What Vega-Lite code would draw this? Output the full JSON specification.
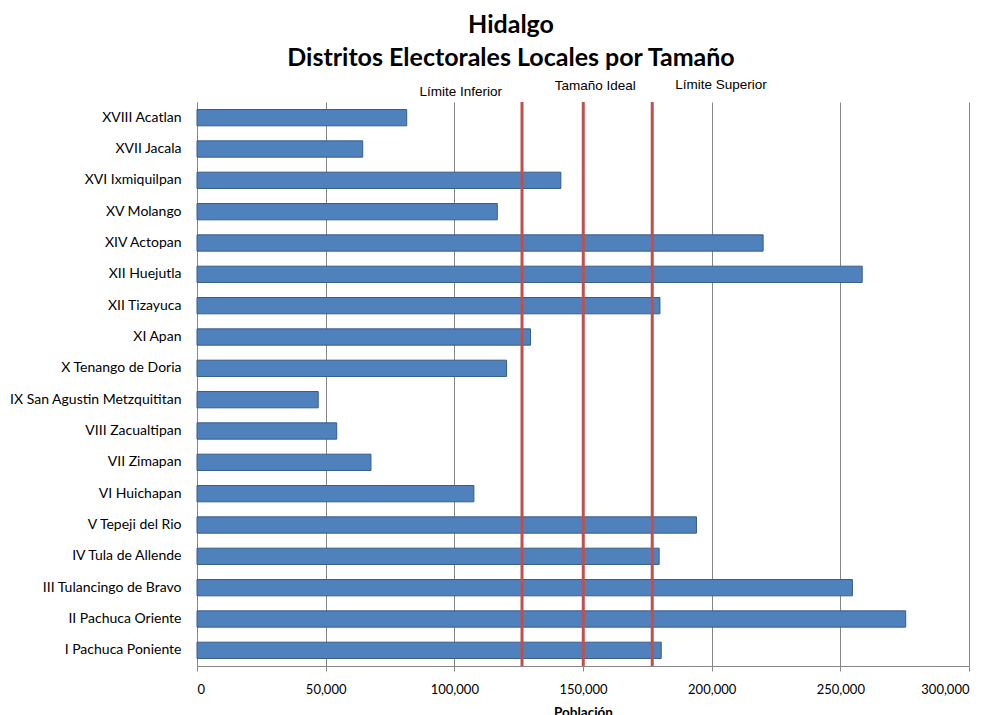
{
  "$schema": "https://vega.github.io/schema/vega-lite/v6.json",
  "autosize": {"type": "none"},
  "padding": {"left": 197, "top": 102, "right": 24, "bottom": 49},
  "width": 772,
  "height": 564,
  "title": {
    "text": ["Hidalgo", "Distritos Electorales Locales por Tamaño"],
    "font": "Lato",
    "fontSize": 25,
    "fontWeight": "bold",
    "color": "#000000",
    "anchor": "middle",
    "dx": -72,
    "lineHeight": 33,
    "offset": 7
  },
  "datasets": {
    "distritos": [
      {"distrito": "XVIII Acatlan", "poblacion": 81500},
      {"distrito": "XVII Jacala", "poblacion": 64400},
      {"distrito": "XVI Ixmiquilpan", "poblacion": 141400},
      {"distrito": "XV Molango", "poblacion": 116700},
      {"distrito": "XIV Actopan", "poblacion": 220000},
      {"distrito": "XII Huejutla", "poblacion": 258500},
      {"distrito": "XII Tizayuca", "poblacion": 179900},
      {"distrito": "XI Apan", "poblacion": 129600},
      {"distrito": "X Tenango de Doria", "poblacion": 120300},
      {"distrito": "IX San Agustin Metzquititan", "poblacion": 47100},
      {"distrito": "VIII Zacualtipan", "poblacion": 54300},
      {"distrito": "VII Zimapan", "poblacion": 67600},
      {"distrito": "VI Huichapan", "poblacion": 107600},
      {"distrito": "V Tepeji del Rio", "poblacion": 194100},
      {"distrito": "IV Tula de Allende", "poblacion": 179600},
      {"distrito": "III Tulancingo de Bravo", "poblacion": 254700},
      {"distrito": "II Pachuca Oriente", "poblacion": 275400},
      {"distrito": "I Pachuca Poniente", "poblacion": 180400}
    ],
    "limites": [
      {"label": "Límite Inferior", "valor": 126300},
      {"label": "Tamaño Ideal", "valor": 150100},
      {"label": "Límite Superior", "valor": 176900}
    ]
  },
  "layer": [
    {
      "data": {"name": "distritos"},
      "mark": {"type": "bar", "color": "#4F81BD", "stroke": "#385D8A", "strokeWidth": 1},
      "encoding": {
        "y": {
          "field": "distrito",
          "type": "nominal",
          "sort": null,
          "scale": {"paddingInner": 0.48, "paddingOuter": 0.24},
          "axis": {
            "title": null,
            "ticks": false,
            "labelPadding": 16,
            "labelFont": "Lato",
            "labelFontSize": 14,
            "labelColor": "#000000",
            "domainColor": "#868686",
            "domainWidth": 1
          }
        },
        "x": {
          "field": "poblacion",
          "type": "quantitative",
          "scale": {"domain": [0, 300000], "nice": false},
          "axis": {
            "title": "Población",
            "titleFont": "Lato",
            "titleFontSize": 13.5,
            "titleFontWeight": "bold",
            "titleColor": "#000000",
            "titlePadding": 9,
            "values": [0, 50000, 100000, 150000, 200000, 250000, 300000],
            "format": ",d",
            "labelFont": "Lato",
            "labelFontSize": 13,
            "labelColor": "#000000",
            "labelPadding": 12,
            "tickColor": "#868686",
            "tickSize": 5,
            "domainColor": "#868686",
            "grid": true,
            "gridColor": "#868686",
            "gridWidth": 1
          }
        }
      }
    },
    {
      "data": {"name": "limites"},
      "mark": {"type": "rule", "color": "#C0504D", "strokeWidth": 3},
      "encoding": {
        "x": {"field": "valor", "type": "quantitative"}
      }
    },
    {
      "data": {"name": "limites"},
      "transform": [{"filter": "datum.label === 'Límite Inferior'"}],
      "mark": {"type": "text", "font": "Liberation Sans", "fontSize": 13.5, "align": "right", "baseline": "middle", "dx": -20, "dy": -26, "color": "#000000"},
      "encoding": {
        "x": {"field": "valor", "type": "quantitative"},
        "y": {"datum": "XVIII Acatlan"},
        "text": {"field": "label"}
      }
    },
    {
      "data": {"name": "limites"},
      "transform": [{"filter": "datum.label === 'Tamaño Ideal'"}],
      "mark": {"type": "text", "font": "Liberation Sans", "fontSize": 13.5, "align": "center", "baseline": "middle", "dx": 12, "dy": -32, "color": "#000000"},
      "encoding": {
        "x": {"field": "valor", "type": "quantitative"},
        "y": {"datum": "XVIII Acatlan"},
        "text": {"field": "label"}
      }
    },
    {
      "data": {"name": "limites"},
      "transform": [{"filter": "datum.label === 'Límite Superior'"}],
      "mark": {"type": "text", "font": "Liberation Sans", "fontSize": 13.5, "align": "left", "baseline": "middle", "dx": 23, "dy": -33, "color": "#000000"},
      "encoding": {
        "x": {"field": "valor", "type": "quantitative"},
        "y": {"datum": "XVIII Acatlan"},
        "text": {"field": "label"}
      }
    }
  ],
  "config": {
    "view": {"stroke": null},
    "background": "#ffffff"
  }
}
